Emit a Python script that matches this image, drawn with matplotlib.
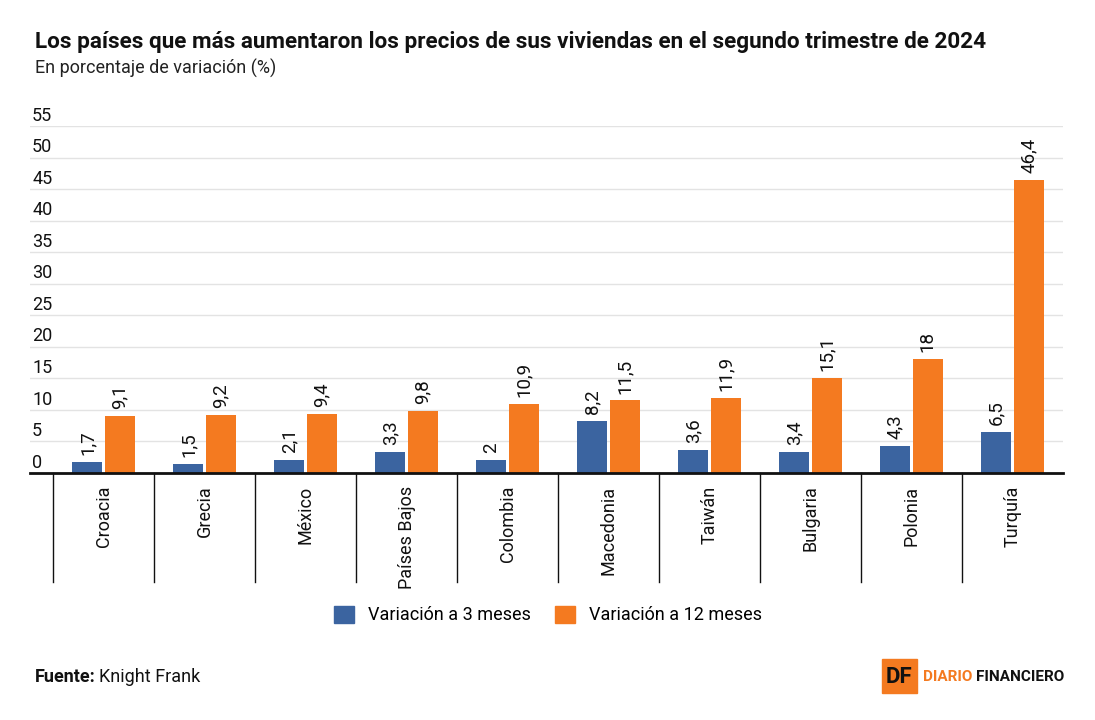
import matplotlib
matplotlib.use("Agg")
import matplotlib.pyplot as plt
import matplotlib.transforms as mtransforms
from matplotlib.patches import Patch, Rectangle
import numpy as np

plt.rcParams['font.family'] = ['Roboto', 'DejaVu Sans']

paises = ['Croacia', 'Grecia', 'México', 'Países Bajos', 'Colombia',
          'Macedonia', 'Taiwán', 'Bulgaria', 'Polonia', 'Turquía']
var_3m = [1.7, 1.5, 2.1, 3.3, 2.0, 8.2, 3.6, 3.4, 4.3, 6.5]
var_12m = [9.1, 9.2, 9.4, 9.8, 10.9, 11.5, 11.9, 15.1, 18.0, 46.4]
y_ticks = [0, 5, 10, 15, 20, 25, 30, 35, 40, 45, 50, 55]

BLUE = '#3B64A0'
ORANGE = '#F47A20'
GRID = '#E3E3E3'
INK = '#111111'


def fmt(v):
    s = ('%.1f' % v).replace('.', ',')
    return s[:-2] if s.endswith(',0') else s


W, H = 1095, 720
fig = plt.figure(figsize=(W / 100, H / 100), dpi=100)
ax = fig.add_axes([30 / W, 1 - 473 / H, (1063 - 30) / W, (473 - 126) / H])

x = np.arange(len(paises))
bw = 0.3
off = 0.16
ax.bar(x - off, var_3m, bw, color=BLUE, zorder=3)
ax.bar(x + off, var_12m, bw, color=ORANGE, zorder=3)

for xs, vals in ((x - off, var_3m), (x + off, var_12m)):
    for xi, v in zip(xs, vals):
        ax.annotate(fmt(v), (xi, v), xytext=(0, 5), textcoords='offset points',
                    rotation=90, ha='center', va='bottom', fontsize=13.5, color=INK)

ax.set_xlim(-0.5 - 23 / 101, len(paises) - 0.5)
ax.set_ylim(0, 55)

# grid and y labels sitting above the lines
trans = mtransforms.blended_transform_factory(ax.transAxes, ax.transData)
for t in y_ticks:
    if t > 0:
        ax.axhline(t, color=GRID, lw=1, zorder=1)
    ax.annotate(str(t), (0.002, t), xycoords=trans, xytext=(0, 1),
                textcoords='offset points', ha='left', va='bottom',
                fontsize=13, color=INK)

for s in ax.spines.values():
    s.set_visible(False)
ax.axhline(0, color=INK, lw=2, zorder=4, clip_on=False)
ax.set_yticks([])

ax.set_xticks(x)
ax.set_xticklabels(paises, rotation=90, fontsize=13, va='top', color=INK)
ax.tick_params(axis='x', length=0, pad=9)

# category separators below the axis
tx = mtransforms.blended_transform_factory(ax.transData, ax.transAxes)
for k in range(len(paises)):
    ax.plot([k - 0.5, k - 0.5], [0, -109 / 347], transform=tx, color=INK,
            lw=1, clip_on=False)

# title block
fig.text(35 / W, 1 - 42 / H,
         'Los países que más aumentaron los precios de sus viviendas en el segundo trimestre de 2024',
         fontsize=16.2, fontweight='bold', va='center', ha='left', color=INK)
fig.text(35 / W, 1 - 68 / H, 'En porcentaje de variación (%)', fontsize=13,
         va='center', ha='left', color='#222222')

# legend
handles = [Patch(color=BLUE, label='Variación a 3 meses'),
           Patch(color=ORANGE, label='Variación a 12 meses')]
fig.legend(handles=handles, loc='center', bbox_to_anchor=(548 / W, 1 - 615 / H),
           ncol=2, frameon=False, fontsize=13, handlelength=1.1, handleheight=1.1,
           handletextpad=0.8, columnspacing=1.3)

# footer
fig.text(35 / W, 1 - 677 / H, 'Fuente:', fontsize=13, fontweight='bold',
         va='center', ha='left', color=INK)
fig.text(99 / W, 1 - 677 / H, 'Knight Frank', fontsize=13, va='center', ha='left',
         color=INK)

fig.patches.append(Rectangle((882 / W, 1 - 693 / H), 35 / W, 34 / H, color=ORANGE,
                             transform=fig.transFigure, figure=fig))
fig.text(899 / W, 1 - 677 / H, 'DF', fontsize=16, fontweight='bold', va='center',
         ha='center', color=INK)
fig.text(923 / W, 1 - 677 / H, 'DIARIO', fontsize=11, fontweight='bold', va='center',
         ha='left', color=ORANGE)
fig.text(976 / W, 1 - 677 / H, 'FINANCIERO', fontsize=11, fontweight='bold', va='center',
         ha='left', color=INK)

fig.savefig('out.png', dpi=100, facecolor='white')
